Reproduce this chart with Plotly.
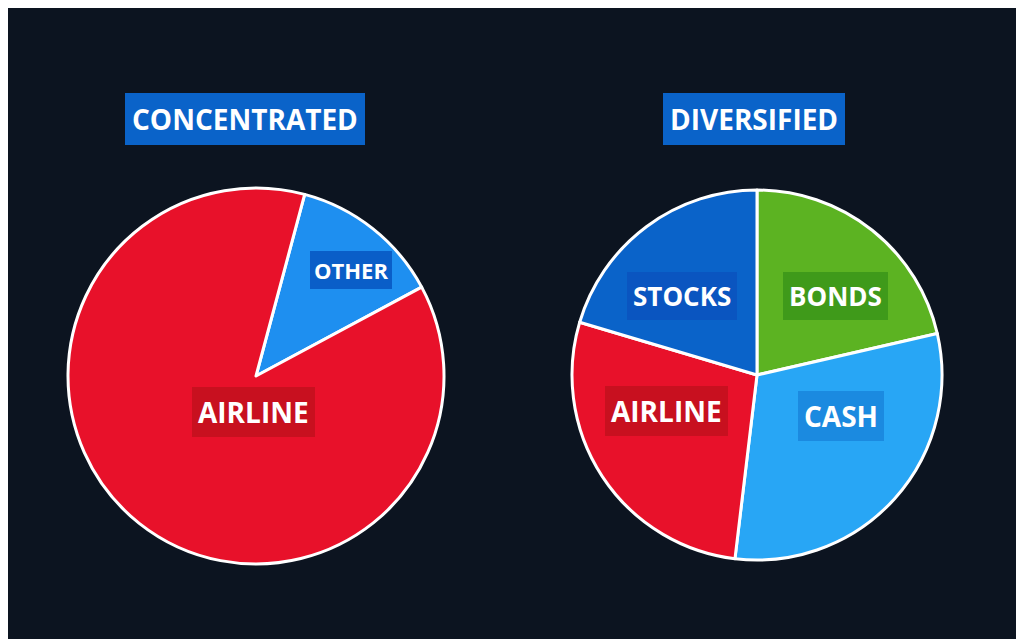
import plotly.graph_objects as go

# portfolio shares
conc_labels = ['OTHER', 'AIRLINE']
conc_values = [13, 87]
conc_colors = ['#1e8ff0', '#e8112a']

div_labels = ['BONDS', 'CASH', 'AIRLINE', 'STOCKS']
div_values = [21.4, 30.5, 27.7, 20.4]
div_colors = ['#5cb322', '#28a6f5', '#e8112a', '#0a63c9']

titles = ['CONCENTRATED', 'DIVERSIFIED']

W, H = 1024, 639
bg = '#0c1420'

fig = go.Figure()
fig.add_trace(go.Pie(
    labels=conc_labels, values=conc_values, sort=False, direction='clockwise',
    rotation=15, textinfo='none', hoverinfo='label+percent',
    marker=dict(colors=conc_colors, line=dict(color='white', width=3)),
    domain=dict(x=[60 / W, 436 / W], y=[1 - 556 / H, 1 - 180 / H]),
))
fig.add_trace(go.Pie(
    labels=div_labels, values=div_values, sort=False, direction='clockwise',
    rotation=0, textinfo='none', hoverinfo='label+percent',
    marker=dict(colors=div_colors, line=dict(color='white', width=3)),
    domain=dict(x=[562 / W, 936 / W], y=[1 - 552 / H, 1 - 182 / H]),
))


def tag(text, cx, cy, bgc, size=26, pad=6):
    fig.add_annotation(
        x=cx / W, y=1 - cy / H, xref='paper', yref='paper', text='<b>%s</b>' % text,
        xanchor='center', yanchor='middle',
        showarrow=False, font=dict(family='Open Sans', size=size, color='white'),
        bgcolor=bgc, borderpad=pad, bordercolor=bgc, borderwidth=1,
    )


tag(titles[0], 237, 111, '#0a63c9', size=28, pad=6)
tag(titles[1], 746, 111, '#0a63c9', size=28, pad=6)
tag('OTHER', 343, 262, '#0a5ec8', size=22, pad=3)
tag('AIRLINE', 245, 404, '#c8101f', size=28, pad=5)
tag('STOCKS', 674, 288, '#0a55c0', size=26, pad=5)
tag('BONDS', 827, 288, '#3f9a1a', size=26, pad=5)
tag('AIRLINE', 658, 403, '#c8101f', size=28, pad=5)
tag('CASH', 833, 408, '#1b8ae0', size=28, pad=5)

fig.update_layout(
    width=W, height=H, paper_bgcolor=bg, plot_bgcolor=bg,
    margin=dict(t=0, b=0, l=0, r=0), showlegend=False,
)
fig.write_html('out.html', config={'displayModeBar': False})
